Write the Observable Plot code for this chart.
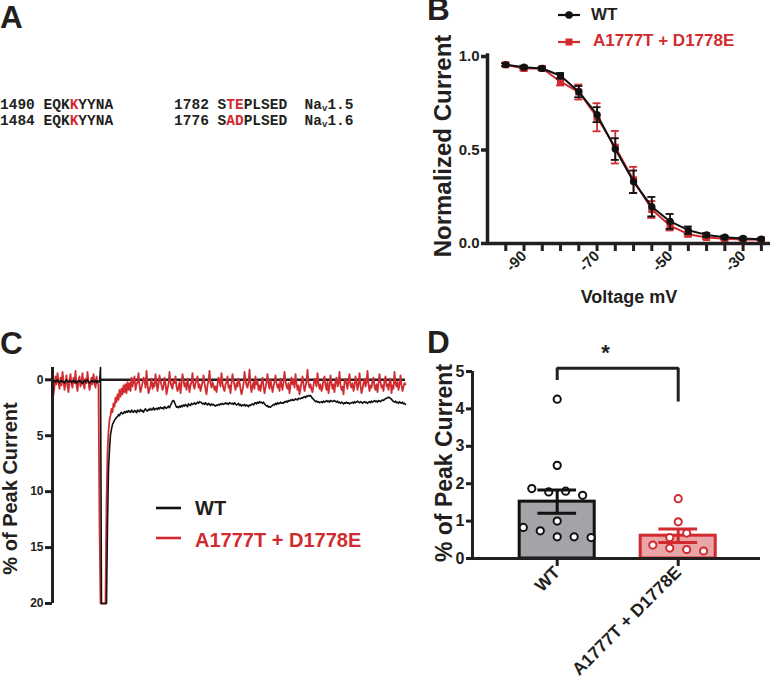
<!DOCTYPE html>
<html><head><meta charset="utf-8">
<script src="https://cdn.jsdelivr.net/npm/d3@7"></script>
<script src="https://cdn.jsdelivr.net/npm/@observablehq/plot@0.6"></script>
<style>
html,body{margin:0;padding:0;background:#fff;}
#fig{position:relative;width:777px;height:688px;overflow:hidden;font-family:"Liberation Sans",Arial,sans-serif;font-weight:bold;color:#231f20;}
.abs{position:absolute;white-space:pre;}
.letter{font-size:31.5px;line-height:1.117;}
.seq{font-family:"Liberation Mono","Courier New",monospace;font-size:14.5px;line-height:16.8px;font-weight:bold;}
.seq .r{color:#d12b30;}
.seq sub{font-size:9px;vertical-align:-2px;line-height:0;}
.plotbox{position:absolute;}
.plotbox svg{background:transparent;}
</style></head>
<body><div id="fig"></div>
<script>
// ---------------- DATA ----------------
const RED = "#d12b30";

// Panel A: sequence alignment
const seqLines = [
  ["1490 EQK", "K", "YYNA       1782 S", "TE", "PLSED  Na", "v", "1.5"],
  ["1484 EQK", "K", "YYNA       1776 S", "AD", "PLSED  Na", "v", "1.6"]
];

// Panel B: steady-state inactivation
const voltages = [-95,-90,-85,-80,-75,-70,-65,-60,-55,-50,-45,-40,-35,-30,-25];
const voltageLabels = [-90,-70,-50,-30];
const wtCurrent  = [0.956,0.943,0.936,0.897,0.812,0.689,0.505,0.330,0.197,0.118,0.071,0.046,0.034,0.027,0.023];
const wtSem      = [0.008,0.008,0.008,0.015,0.030,0.040,0.058,0.060,0.052,0.040,0.020,0.010,0.008,0.006,0.005];
const mutCurrent = [0.956,0.936,0.936,0.865,0.810,0.675,0.515,0.340,0.182,0.095,0.050,0.032,0.025,0.022,0.020];
const mutSem     = [0.008,0.010,0.010,0.020,0.040,0.075,0.087,0.070,0.045,0.025,0.012,0.008,0.006,0.005,0.005];

// Panel C: representative traces, % of peak current, 1 ms per sample
const traceWT = [
0.1,0.15,0.05,0.2,0.1,0.0,0.15,0.25,0.1,0.05,0.2,0.15,0.3,0.1,0.0,0.15,0.2,0.05,0.1,0.25,
0.15,0.05,0.2,0.1,0.3,0.2,0.05,0.15,0.1,0.25,0.35,0.15,0.05,0.2,0.1,0.0,0.15,0.3,0.2,0.05,
0.1,0.2,0.15,0.05,0.25,0.1,0.15,0.2,-1.1,20,20,20,20,20,20,13,8,6.2,4.9,4.4,
4.0,3.8,3.6,3.5,3.35,3.3,3.1,3.2,3.0,2.9,3.05,3.0,2.85,2.95,2.8,2.9,2.75,2.85,2.9,2.7,
2.85,2.9,2.75,2.8,2.95,2.7,2.8,2.85,2.65,2.8,2.75,2.9,2.7,2.6,2.75,2.8,2.65,2.7,2.55,2.7,
2.65,2.5,2.7,2.6,2.55,2.65,2.5,2.6,2.45,2.55,2.5,2.6,2.4,2.5,2.55,2.45,2.35,2.5,2.3,2.1,
1.9,1.85,2.0,2.25,2.45,2.4,2.5,2.35,2.45,2.3,2.4,2.25,2.35,2.2,2.3,2.4,2.15,2.25,2.3,2.1,
2.2,2.15,2.05,2.2,2.1,2.0,2.1,1.95,2.0,2.05,2.15,2.1,2.2,2.05,2.15,2.25,2.1,2.2,2.3,2.15,
2.25,2.2,2.3,2.35,2.25,2.3,2.2,2.25,2.15,2.2,2.1,2.2,2.15,2.05,2.15,2.1,2.2,2.05,2.1,2.15,
2.1,2.2,2.05,2.15,2.25,2.2,2.1,2.3,2.2,2.35,2.25,2.3,2.2,2.35,2.25,2.3,2.4,2.25,2.3,2.2,
2.15,2.25,2.1,2.05,2.15,2.0,2.1,1.95,2.05,2.0,2.1,2.0,2.15,2.25,2.35,2.3,2.45,2.4,2.45,2.35,
2.3,2.2,2.25,2.1,2.2,2.05,2.15,2.1,2.0,2.1,2.05,2.1,1.95,2.0,1.9,2.0,1.85,1.9,1.8,1.85,
1.75,1.85,1.8,1.7,1.75,1.8,1.65,1.7,1.7,1.6,1.65,1.55,1.5,1.6,1.45,1.5,1.4,1.45,1.4,1.55,
1.65,1.75,1.85,1.95,1.9,2.0,1.95,2.05,2.0,1.95,2.05,1.9,2.0,1.95,1.85,1.95,1.9,2.0,1.85,1.9,
1.95,1.9,1.85,1.95,2.0,1.9,2.05,2.0,2.1,2.0,2.05,2.15,2.05,2.1,2.0,2.1,2.05,2.15,2.1,2.05,
2.0,2.1,1.95,2.05,2.0,1.9,2.0,2.05,1.95,2.0,2.1,2.0,1.95,2.05,2.0,2.1,2.0,1.95,2.05,1.9,
2.0,1.95,1.85,1.95,1.9,2.0,1.85,1.9,1.95,1.85,1.8,1.85,1.75,1.7,1.65,1.6,1.55,1.6,1.65,1.75,
1.85,1.95,2.0,1.9,2.05,2.0,2.1,1.95,2.05,2.1,2.0,2.15,2.1,2.2
];
const traceMut = [
0.2,1.3,0.6,-0.3,0.4,-0.6,0.2,0.8,-0.2,0.5,-0.7,0.1,0.9,0.3,-0.4,0.6,1.1,0.0,-0.5,0.4,
0.7,-0.2,0.3,-0.8,0.5,1.0,0.1,-0.3,0.6,0.2,-0.6,0.4,0.8,-0.1,0.3,-0.7,0.2,0.9,0.5,-0.2,
0.4,-0.5,0.3,0.7,-0.3,0.2,0.5,12.8,20,20,20,20,20,20,11,6.5,4.6,3.6,3.2,2.6,
2.9,2.1,2.4,1.6,2.0,1.3,1.8,0.9,1.5,0.8,1.3,0.5,1.1,0.4,1.2,0.2,0.9,0.3,1.0,-0.2,
0.6,0.1,-0.3,0.9,0.4,0.2,-0.6,0.5,1.1,0.7,0.3,-0.2,0.0,0.7,-0.8,0.4,1.2,0.9,0.5,-0.1,
0.8,0.3,0.6,-0.5,0.2,1.0,0.4,-0.4,0.1,0.5,0.9,0.6,-0.2,0.3,1.3,0.8,0.4,-0.7,0.2,0.6,
0.8,0.1,0.3,-0.3,0.6,1.0,0.7,0.2,1.2,0.4,-0.5,0.0,0.6,0.3,0.9,-0.1,0.4,1.1,0.5,0.2,
-0.6,0.5,0.8,0.3,0.0,-0.3,0.7,0.4,1.0,0.6,0.2,-0.4,0.3,0.8,1.3,0.5,0.1,-0.8,0.3,0.7,
0.2,0.5,0.9,0.6,1.1,0.4,-0.2,0.1,0.6,-0.6,0.3,0.8,1.0,0.4,0.2,-0.3,0.7,0.5,1.2,0.3,
-0.5,0.1,0.5,0.9,0.3,0.6,-0.1,0.2,0.8,1.3,0.9,0.4,-0.7,0.0,0.5,0.7,0.2,-0.9,0.4,1.1,
0.6,0.2,0.8,-0.3,0.4,0.1,0.9,0.5,1.0,0.3,-0.2,0.6,1.2,0.7,0.2,-0.5,0.4,0.8,0.0,0.5,
1.1,0.6,0.2,-0.4,0.3,0.7,0.4,1.0,-0.1,0.5,0.9,0.2,-0.7,0.1,0.6,0.8,0.3,1.2,0.5,-0.2,
0.4,0.0,0.7,-0.5,0.3,0.9,0.5,1.3,0.8,0.2,-0.3,0.4,1.0,0.6,0.1,-0.9,0.3,0.7,0.4,0.9,
1.1,0.5,-0.1,0.2,0.6,-0.6,0.3,0.8,0.4,1.0,0.7,0.0,-0.3,0.5,0.9,0.2,1.2,0.6,-0.4,0.3,
0.8,0.4,1.1,0.1,-0.2,0.6,0.3,-0.7,0.5,0.9,0.6,1.3,0.2,-0.1,0.4,0.8,0.0,-0.5,0.5,0.7,
0.3,1.0,0.6,-0.3,0.2,0.9,0.4,-0.6,0.5,1.2,0.8,0.3,-0.1,0.6,0.2,-0.8,0.4,1.0,0.5,0.7,
0.1,-0.2,0.6,0.9,0.4,1.1,0.3,-0.5,0.2,0.7,0.5,1.0,0.0,-0.3,0.6,0.4,0.9,0.2,-0.1,1.2,
0.5,0.8,-0.7,0.3,0.6,0.2,0.9,0.4,-0.4,0.5,1.0,0.6,0.3,0.4
];
const traceYTicks = [0,5,10,15,20];
const pulseStartMs = 48;          // end of pre-pulse, start of zero reference

// Panel D: persistent current
const groups = ["WT", "A1777T + D1778E"];
const wtPoints  = [4.26,2.49,1.87,1.78,1.80,1.69,1.00,0.83,0.74,0.58,0.58,0.56];
const mutPoints = [1.60,0.98,0.56,0.68,0.36,0.28,0.24,0.20];
const barMeans = [1.52, 0.61];
const barSems  = [0.31, 0.18];
const bracketTop = 5.09, bracketLeftEnd = 4.77, bracketRightEnd = 4.20;
const sigLabel = "*";

// ---------------- LAYOUT ----------------
const fig = document.getElementById("fig");
function addDiv(cls, html, left, top, extra) {
  const d = document.createElement("div");
  d.className = "abs " + cls;
  d.innerHTML = html;
  d.style.left = left + "px"; d.style.top = top + "px";
  if (extra) Object.assign(d.style, extra);
  fig.appendChild(d);
  return d;
}
function addPlot(svg, left, top) {
  const d = document.createElement("div");
  d.className = "plotbox";
  d.style.left = left + "px"; d.style.top = top + "px";
  d.appendChild(svg);
  fig.appendChild(d);
}
const font = {fontFamily: '"Liberation Sans", Arial, sans-serif', fontWeight: "bold", background: "transparent", color: "#231f20"};

// ---- Panel A ----
seqLines.forEach((p, k) => {
  const html = `${p[0]}<span class="r">${p[1]}</span>${p[2]}<span class="r">${p[3]}</span>${p[4]}<sub>${p[5]}</sub>${p[6]}`;
  addDiv("seq", html, 0, 96.5 + k * 16.8);
});

// ---- Panel B ----
const wtB = voltages.map((v, i) => ({v, m: wtCurrent[i], s: wtSem[i]}));
const mutB = voltages.map((v, i) => ({v, m: mutCurrent[i], s: mutSem[i]}));
const capB = 1.1;
function seriesMarks(data, color, symbol) {
  return [
    Plot.ruleX(data, {x: "v", y1: d => d.m - d.s, y2: d => d.m + d.s, stroke: color, strokeWidth: 1.8}),
    Plot.ruleY(data, {y: d => d.m + d.s, x1: d => d.v - capB, x2: d => d.v + capB, stroke: color, strokeWidth: 1.8}),
    Plot.ruleY(data, {y: d => d.m - d.s, x1: d => d.v - capB, x2: d => d.v + capB, stroke: color, strokeWidth: 1.8}),
    Plot.line(data, {x: "v", y: "m", stroke: color, strokeWidth: 2}),
    Plot.dot(data, {x: "v", y: "m", symbol, r: symbol === "square" ? 4 : 3.6, fill: color, stroke: "none"})
  ];
}
const xDomB = [-100, -22.5];
const plotB = Plot.plot({
  width: 377, height: 310, marginLeft: 87, marginRight: 7, marginTop: 56, marginBottom: 67,
  style: font,
  x: {domain: xDomB, axis: null},
  y: {domain: [0, 1], axis: null},
  marks: [
    ...seriesMarks(mutB, RED, "square"),
    ...seriesMarks(wtB, "#111", "circle"),
    Plot.ruleX([xDomB[0]], {y1: 0, y2: 1.015, strokeWidth: 3.5}),
    Plot.ruleY([0], {strokeWidth: 3.5}),
    Plot.axisY({ticks: [0, 0.5, 1], tickFormat: d3.format(".1f"), tickSize: 6, tickPadding: 2, fontSize: 15, strokeWidth: 3.5, label: null}),
    Plot.axisX({ticks: voltages, tickFormat: d => voltageLabels.includes(d) ? String(d) : "", tickRotate: -45, tickSize: 8, tickPadding: 2, fontSize: 15, strokeWidth: 3, label: null}),
    Plot.text(["Voltage mV"], {frameAnchor: "bottom", lineAnchor: "bottom", dy: 59, fontSize: 18, fontWeight: "bold"}),
    Plot.text(["Normalized Current"], {frameAnchor: "left", textAnchor: "middle", rotate: -90, dx: -44, dy: -4, fontSize: 24, fontWeight: "bold"})
  ]
});
addPlot(plotB, 400, 0);

// ---- Panel C ----
const xDomC = [0, traceWT.length - 1];
const plotC = Plot.plot({
  width: 420, height: 293, marginLeft: 52, marginRight: 15, marginTop: 47, marginBottom: 10,
  style: font,
  x: {domain: xDomC, axis: null},
  y: {domain: [-1.1, 20], reverse: true, axis: null},
  marks: [
    Plot.ruleY([0], {x1: pulseStartMs, x2: xDomC[1], strokeWidth: 2.5}),
    Plot.line(traceMut, {x: (d, i) => i, y: d => d, stroke: RED, strokeWidth: 1.8}),
    Plot.line(traceWT, {x: (d, i) => i, y: d => d, stroke: "#111", strokeWidth: 1.6}),
    Plot.ruleX([xDomC[0]], {strokeWidth: 3}),
    Plot.axisY({ticks: traceYTicks, tickFormat: d => String(d), tickSize: 7, tickPadding: 2, fontSize: 12, strokeWidth: 3, label: null}),
    Plot.text(["% of Peak Current"], {frameAnchor: "left", textAnchor: "middle", rotate: -90, dx: -42, dy: 3, fontSize: 20, fontWeight: "bold"})
  ]
});
addPlot(plotC, 0, 320);

// ---- Panel D ----
function rowLayout(values, threshold, step) {
  const order = d3.range(values.length).sort((a, b) => values[b] - values[a]);
  const rows = []; let cur = [order[0]];
  for (let k = 1; k < order.length; k++) {
    if (values[order[k - 1]] - values[order[k]] <= threshold) cur.push(order[k]);
    else { rows.push(cur); cur = [order[k]]; }
  }
  rows.push(cur);
  const off = new Array(values.length);
  for (const r of rows) { r.sort((a, b) => a - b); r.forEach((idx, j) => off[idx] = (j - (r.length - 1) / 2) * step); }
  return off;
}
const dotStep = 0.14, barHalf = 0.31, capHalf = 0.16;
const wtOff = rowLayout(wtPoints, 0.165, dotStep);
const mutOff = rowLayout(mutPoints, 0.165, dotStep);
const dotsD = [
  ...wtPoints.map((v, i) => ({g: 0, x: 0 + wtOff[i], v})),
  ...mutPoints.map((v, i) => ({g: 1, x: 1 + mutOff[i], v}))
];
const barsD = groups.map((name, g) => ({g, name, mean: barMeans[g], sem: barSems[g]}));
const barFill = ["#a3a3a8", "#eaa5a8"], barStroke = ["#111", RED];
const bracket = [
  {x: 0, y: bracketLeftEnd}, {x: 0, y: bracketTop}, {x: 1, y: bracketTop}, {x: 1, y: bracketRightEnd}
];
const xDomD = [-0.7, 1.68];
const plotD = Plot.plot({
  width: 357, height: 368, marginLeft: 52, marginRight: 17, marginTop: 51, marginBottom: 130,
  style: font,
  x: {domain: xDomD, axis: null},
  y: {domain: [0, 5], axis: null},
  marks: [
    Plot.rectY(barsD, {x1: d => d.g - barHalf, x2: d => d.g + barHalf, y1: 0, y2: "mean", fill: d => barFill[d.g], stroke: d => barStroke[d.g], strokeWidth: 3}),
    Plot.dot(dotsD, {x: "x", y: "v", r: 3.6, fill: "white", stroke: d => barStroke[d.g], strokeWidth: 2}),
    Plot.ruleX(barsD, {x: "g", y1: d => d.mean - d.sem, y2: d => d.mean + d.sem, stroke: d => barStroke[d.g], strokeWidth: 3}),
    Plot.ruleY(barsD, {y: d => d.mean + d.sem, x1: d => d.g - capHalf, x2: d => d.g + capHalf, stroke: d => barStroke[d.g], strokeWidth: 3}),
    Plot.ruleY(barsD, {y: d => d.mean - d.sem, x1: d => d.g - capHalf, x2: d => d.g + capHalf, stroke: d => barStroke[d.g], strokeWidth: 3}),
    Plot.ruleX([xDomD[0]], {y1: 0, y2: 5, strokeWidth: 3}),
    Plot.ruleY([0], {strokeWidth: 3}),
    Plot.axisY({ticks: [0, 1, 2, 3, 4, 5], tickFormat: d => String(d), tickSize: 6, tickPadding: 2, fontSize: 16, strokeWidth: 3, label: null}),
    Plot.axisX({ticks: [0, 1], tickFormat: i => groups[i], tickRotate: -45, tickSize: 8, tickPadding: 3, fontSize: 17.5, strokeWidth: 3, label: null}),
    Plot.line(bracket, {x: "x", y: "y", strokeWidth: 3, strokeLinejoin: "miter", strokeLinecap: "butt"}),
    Plot.text([sigLabel], {x: 0.4, y: 5.5, fontSize: 22, fontWeight: "bold"}),
    Plot.text(["% of Peak Current"], {frameAnchor: "left", textAnchor: "middle", rotate: -90, dx: -28, dy: -2, fontSize: 23, fontWeight: "bold"})
  ]
});
addPlot(plotD, 420, 320);

// ---- Legends ----
function swatch(left, top, color, marker) {
  const s = `<svg width="26" height="12" style="display:block"><line x1="2" y1="6" x2="24" y2="6" stroke="${color}" stroke-width="2.2"/>` +
    (marker === "circle" ? `<circle cx="13" cy="6" r="3.8" fill="${color}"/>` :
     marker === "square" ? `<rect x="9.5" y="2.5" width="7" height="7" fill="${color}"/>` : "") + `</svg>`;
  addDiv("", s, left, top);
}
swatch(556, 9, "#111", "circle");
swatch(556, 36, RED, "square");
addDiv("", "WT", 591, 5.6, {fontSize: "17px", lineHeight: "17px"});
addDiv("", "A1777T + D1778E", 593, 32.3, {fontSize: "17px", lineHeight: "17px", color: RED});

function lineSwatch(left, top, color) {
  addDiv("", `<svg width="26" height="6" style="display:block"><line x1="0" y1="3" x2="25" y2="3" stroke="${color}" stroke-width="2.6"/></svg>`, left, top);
}
lineSwatch(156, 505, "#111");
lineSwatch(156, 535, RED);
addDiv("", "WT", 195, 498, {fontSize: "20px", lineHeight: "20px"});
addDiv("", "A1777T + D1778E", 195, 529.8, {fontSize: "20px", lineHeight: "20px", color: RED});

// ---- Panel letters ----
addDiv("letter", "A", 0, 0);
addDiv("letter", "B", 427, -7.8);
addDiv("letter", "C", 0, 325.5);
addDiv("letter", "D", 427, 324.5);
</script>
</body></html>
